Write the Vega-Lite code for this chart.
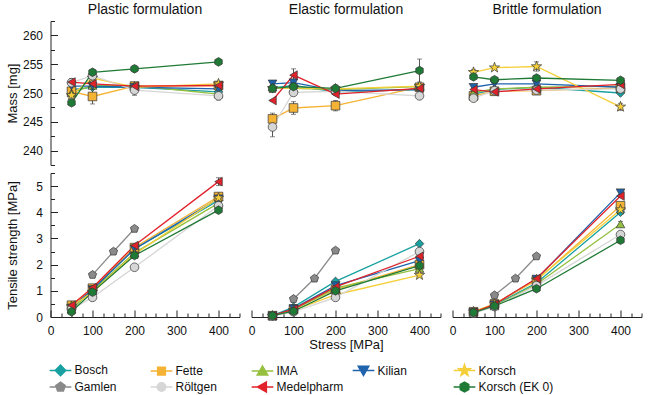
{
"$schema":"https://vega.github.io/schema/vega-lite/v6.json",
"padding":{"left":5.5,"top":2,"right":5,"bottom":2},
"config":{"view":{"stroke":null},"font":"Liberation Sans",
"axis":{"grid":false,"domainColor":"#222","tickColor":"#222","labelFont":"Liberation Sans","labelFontSize":12,"labelColor":"#111","titleFont":"Liberation Sans","titleFontSize":13,"titleFontWeight":"normal","titleColor":"#111","labelFlush":false,"labelOverlap":false},
"title":{"font":"Liberation Sans","fontSize":14,"fontWeight":"normal","color":"#111","offset":4},
"legend":{"orient":"bottom","direction":"horizontal","columns":5,"gridAlign":"all","columnPadding":-2,"rowPadding":-2,"symbolSize":144,"symbolOffset":2,"labelOffset":6,"symbolStrokeWidth":1.5,"labelFont":"Liberation Sans","labelFontSize":12,"labelColor":"#111","padding":0,"offset":10}},
"data":{"values":[
{"form":"Plastic","measure":"mass","press":"Bosch","stress":50,"value":250.6},
{"form":"Plastic","measure":"mass","press":"Bosch","stress":100,"value":251.0},
{"form":"Plastic","measure":"mass","press":"Bosch","stress":200,"value":251.0},
{"form":"Plastic","measure":"mass","press":"Bosch","stress":400,"value":250.2},
{"form":"Plastic","measure":"mass","press":"Fette","stress":50,"value":250.3},
{"form":"Plastic","measure":"mass","press":"Fette","stress":100,"value":249.4,"err":1.3},
{"form":"Plastic","measure":"mass","press":"Fette","stress":200,"value":251.2},
{"form":"Plastic","measure":"mass","press":"Fette","stress":400,"value":251.3},
{"form":"Plastic","measure":"mass","press":"IMA","stress":50,"value":250.0},
{"form":"Plastic","measure":"mass","press":"IMA","stress":100,"value":251.3},
{"form":"Plastic","measure":"mass","press":"IMA","stress":200,"value":251.3},
{"form":"Plastic","measure":"mass","press":"IMA","stress":400,"value":249.8},
{"form":"Plastic","measure":"mass","press":"Kilian","stress":50,"value":251.2},
{"form":"Plastic","measure":"mass","press":"Kilian","stress":100,"value":251.2},
{"form":"Plastic","measure":"mass","press":"Kilian","stress":200,"value":251.0},
{"form":"Plastic","measure":"mass","press":"Kilian","stress":400,"value":250.7},
{"form":"Plastic","measure":"mass","press":"Korsch","stress":50,"value":249.6},
{"form":"Plastic","measure":"mass","press":"Korsch","stress":100,"value":252.6},
{"form":"Plastic","measure":"mass","press":"Korsch","stress":200,"value":251.0},
{"form":"Plastic","measure":"mass","press":"Korsch","stress":400,"value":251.6},
{"form":"Plastic","measure":"mass","press":"Röltgen","stress":50,"value":251.8},
{"form":"Plastic","measure":"mass","press":"Röltgen","stress":100,"value":253.0},
{"form":"Plastic","measure":"mass","press":"Röltgen","stress":200,"value":250.5,"err":0.9},
{"form":"Plastic","measure":"mass","press":"Röltgen","stress":400,"value":249.5,"err":0.7},
{"form":"Plastic","measure":"mass","press":"Medelpharm","stress":50,"value":251.9,"err":0.6},
{"form":"Plastic","measure":"mass","press":"Medelpharm","stress":100,"value":251.6},
{"form":"Plastic","measure":"mass","press":"Medelpharm","stress":200,"value":251.2},
{"form":"Plastic","measure":"mass","press":"Medelpharm","stress":400,"value":251.3,"err":0.7},
{"form":"Plastic","measure":"mass","press":"Korsch (EK 0)","stress":50,"value":248.3,"err":0.5},
{"form":"Plastic","measure":"mass","press":"Korsch (EK 0)","stress":100,"value":253.6},
{"form":"Plastic","measure":"mass","press":"Korsch (EK 0)","stress":200,"value":254.2,"err":0.5},
{"form":"Plastic","measure":"mass","press":"Korsch (EK 0)","stress":400,"value":255.4},
{"form":"Elastic","measure":"mass","press":"Bosch","stress":50,"value":250.9},
{"form":"Elastic","measure":"mass","press":"Bosch","stress":100,"value":251.3},
{"form":"Elastic","measure":"mass","press":"Bosch","stress":200,"value":250.2},
{"form":"Elastic","measure":"mass","press":"Bosch","stress":400,"value":250.6},
{"form":"Elastic","measure":"mass","press":"Fette","stress":50,"value":245.5,"err":1.0},
{"form":"Elastic","measure":"mass","press":"Fette","stress":100,"value":247.4,"err":1.1},
{"form":"Elastic","measure":"mass","press":"Fette","stress":200,"value":247.8,"err":0.9},
{"form":"Elastic","measure":"mass","press":"Fette","stress":400,"value":251.0},
{"form":"Elastic","measure":"mass","press":"IMA","stress":50,"value":251.0},
{"form":"Elastic","measure":"mass","press":"IMA","stress":100,"value":250.8},
{"form":"Elastic","measure":"mass","press":"IMA","stress":200,"value":250.6},
{"form":"Elastic","measure":"mass","press":"IMA","stress":400,"value":251.1},
{"form":"Elastic","measure":"mass","press":"Kilian","stress":50,"value":251.6},
{"form":"Elastic","measure":"mass","press":"Kilian","stress":100,"value":251.8},
{"form":"Elastic","measure":"mass","press":"Kilian","stress":200,"value":250.4},
{"form":"Elastic","measure":"mass","press":"Kilian","stress":400,"value":250.6},
{"form":"Elastic","measure":"mass","press":"Korsch","stress":50,"value":250.8},
{"form":"Elastic","measure":"mass","press":"Korsch","stress":100,"value":250.9},
{"form":"Elastic","measure":"mass","press":"Korsch","stress":200,"value":250.7},
{"form":"Elastic","measure":"mass","press":"Korsch","stress":400,"value":251.2},
{"form":"Elastic","measure":"mass","press":"Röltgen","stress":50,"value":244.1,"err":1.7},
{"form":"Elastic","measure":"mass","press":"Röltgen","stress":100,"value":250.1},
{"form":"Elastic","measure":"mass","press":"Röltgen","stress":200,"value":250.3},
{"form":"Elastic","measure":"mass","press":"Röltgen","stress":400,"value":249.5},
{"form":"Elastic","measure":"mass","press":"Medelpharm","stress":50,"value":248.7},
{"form":"Elastic","measure":"mass","press":"Medelpharm","stress":100,"value":253.1,"err":1.1},
{"form":"Elastic","measure":"mass","press":"Medelpharm","stress":200,"value":249.8},
{"form":"Elastic","measure":"mass","press":"Medelpharm","stress":400,"value":250.8},
{"form":"Elastic","measure":"mass","press":"Korsch (EK 0)","stress":50,"value":250.8,"err":0.7},
{"form":"Elastic","measure":"mass","press":"Korsch (EK 0)","stress":100,"value":251.1,"err":0.6},
{"form":"Elastic","measure":"mass","press":"Korsch (EK 0)","stress":200,"value":250.8,"err":0.6},
{"form":"Elastic","measure":"mass","press":"Korsch (EK 0)","stress":400,"value":253.9,"err":2.0},
{"form":"Brittle","measure":"mass","press":"Bosch","stress":50,"value":249.8},
{"form":"Brittle","measure":"mass","press":"Bosch","stress":100,"value":250.6},
{"form":"Brittle","measure":"mass","press":"Bosch","stress":200,"value":251.0},
{"form":"Brittle","measure":"mass","press":"Bosch","stress":400,"value":250.0},
{"form":"Brittle","measure":"mass","press":"Fette","stress":50,"value":249.5},
{"form":"Brittle","measure":"mass","press":"Fette","stress":100,"value":250.3},
{"form":"Brittle","measure":"mass","press":"Fette","stress":200,"value":250.4},
{"form":"Brittle","measure":"mass","press":"Fette","stress":400,"value":250.9},
{"form":"Brittle","measure":"mass","press":"IMA","stress":50,"value":250.1},
{"form":"Brittle","measure":"mass","press":"IMA","stress":100,"value":250.7},
{"form":"Brittle","measure":"mass","press":"IMA","stress":200,"value":251.0},
{"form":"Brittle","measure":"mass","press":"IMA","stress":400,"value":251.2},
{"form":"Brittle","measure":"mass","press":"Kilian","stress":50,"value":251.0},
{"form":"Brittle","measure":"mass","press":"Kilian","stress":100,"value":251.6},
{"form":"Brittle","measure":"mass","press":"Kilian","stress":200,"value":251.6},
{"form":"Brittle","measure":"mass","press":"Kilian","stress":400,"value":251.0},
{"form":"Brittle","measure":"mass","press":"Korsch","stress":50,"value":253.6,"err":0.5},
{"form":"Brittle","measure":"mass","press":"Korsch","stress":100,"value":254.4},
{"form":"Brittle","measure":"mass","press":"Korsch","stress":200,"value":254.6,"err":0.8},
{"form":"Brittle","measure":"mass","press":"Korsch","stress":400,"value":247.6,"err":0.6},
{"form":"Brittle","measure":"mass","press":"Röltgen","stress":50,"value":249.1,"err":0.5},
{"form":"Brittle","measure":"mass","press":"Röltgen","stress":100,"value":250.4},
{"form":"Brittle","measure":"mass","press":"Röltgen","stress":200,"value":250.5},
{"form":"Brittle","measure":"mass","press":"Röltgen","stress":400,"value":250.7},
{"form":"Brittle","measure":"mass","press":"Medelpharm","stress":50,"value":250.6},
{"form":"Brittle","measure":"mass","press":"Medelpharm","stress":100,"value":250.2},
{"form":"Brittle","measure":"mass","press":"Medelpharm","stress":200,"value":250.7},
{"form":"Brittle","measure":"mass","press":"Medelpharm","stress":400,"value":251.5},
{"form":"Brittle","measure":"mass","press":"Korsch (EK 0)","stress":50,"value":252.8},
{"form":"Brittle","measure":"mass","press":"Korsch (EK 0)","stress":100,"value":252.3},
{"form":"Brittle","measure":"mass","press":"Korsch (EK 0)","stress":200,"value":252.6},
{"form":"Brittle","measure":"mass","press":"Korsch (EK 0)","stress":400,"value":252.2},
{"form":"Plastic","measure":"ts","press":"Bosch","stress":50,"value":0.35},
{"form":"Plastic","measure":"ts","press":"Bosch","stress":100,"value":1.05},
{"form":"Plastic","measure":"ts","press":"Bosch","stress":200,"value":2.6},
{"form":"Plastic","measure":"ts","press":"Bosch","stress":400,"value":4.45},
{"form":"Plastic","measure":"ts","press":"Fette","stress":50,"value":0.45},
{"form":"Plastic","measure":"ts","press":"Fette","stress":100,"value":1.1},
{"form":"Plastic","measure":"ts","press":"Fette","stress":200,"value":2.65},
{"form":"Plastic","measure":"ts","press":"Fette","stress":400,"value":4.6},
{"form":"Plastic","measure":"ts","press":"IMA","stress":50,"value":0.3},
{"form":"Plastic","measure":"ts","press":"IMA","stress":100,"value":1.0},
{"form":"Plastic","measure":"ts","press":"IMA","stress":200,"value":2.45},
{"form":"Plastic","measure":"ts","press":"IMA","stress":400,"value":4.35},
{"form":"Plastic","measure":"ts","press":"Kilian","stress":50,"value":0.35},
{"form":"Plastic","measure":"ts","press":"Kilian","stress":100,"value":1.05},
{"form":"Plastic","measure":"ts","press":"Kilian","stress":200,"value":2.6},
{"form":"Plastic","measure":"ts","press":"Kilian","stress":400,"value":4.52},
{"form":"Plastic","measure":"ts","press":"Korsch","stress":50,"value":0.4},
{"form":"Plastic","measure":"ts","press":"Korsch","stress":100,"value":0.95},
{"form":"Plastic","measure":"ts","press":"Korsch","stress":200,"value":2.4},
{"form":"Plastic","measure":"ts","press":"Korsch","stress":400,"value":4.55},
{"form":"Plastic","measure":"ts","press":"Gamlen","stress":100,"value":1.61},
{"form":"Plastic","measure":"ts","press":"Gamlen","stress":150,"value":2.5},
{"form":"Plastic","measure":"ts","press":"Gamlen","stress":200,"value":3.37},
{"form":"Plastic","measure":"ts","press":"Röltgen","stress":50,"value":0.3},
{"form":"Plastic","measure":"ts","press":"Röltgen","stress":100,"value":0.75,"err":0.08},
{"form":"Plastic","measure":"ts","press":"Röltgen","stress":200,"value":1.9,"err":0.08},
{"form":"Plastic","measure":"ts","press":"Röltgen","stress":400,"value":4.25},
{"form":"Plastic","measure":"ts","press":"Medelpharm","stress":50,"value":0.45},
{"form":"Plastic","measure":"ts","press":"Medelpharm","stress":100,"value":1.12},
{"form":"Plastic","measure":"ts","press":"Medelpharm","stress":200,"value":2.73},
{"form":"Plastic","measure":"ts","press":"Medelpharm","stress":400,"value":5.17,"err":0.15},
{"form":"Plastic","measure":"ts","press":"Korsch (EK 0)","stress":50,"value":0.2},
{"form":"Plastic","measure":"ts","press":"Korsch (EK 0)","stress":100,"value":0.95},
{"form":"Plastic","measure":"ts","press":"Korsch (EK 0)","stress":200,"value":2.35},
{"form":"Plastic","measure":"ts","press":"Korsch (EK 0)","stress":400,"value":4.08},
{"form":"Elastic","measure":"ts","press":"Bosch","stress":50,"value":0.05},
{"form":"Elastic","measure":"ts","press":"Bosch","stress":100,"value":0.38},
{"form":"Elastic","measure":"ts","press":"Bosch","stress":200,"value":1.36},
{"form":"Elastic","measure":"ts","press":"Bosch","stress":400,"value":2.8},
{"form":"Elastic","measure":"ts","press":"Fette","stress":50,"value":0.05},
{"form":"Elastic","measure":"ts","press":"Fette","stress":100,"value":0.3},
{"form":"Elastic","measure":"ts","press":"Fette","stress":200,"value":1.05},
{"form":"Elastic","measure":"ts","press":"Fette","stress":400,"value":2.0},
{"form":"Elastic","measure":"ts","press":"IMA","stress":50,"value":0.04},
{"form":"Elastic","measure":"ts","press":"IMA","stress":100,"value":0.28},
{"form":"Elastic","measure":"ts","press":"IMA","stress":200,"value":1.1},
{"form":"Elastic","measure":"ts","press":"IMA","stress":400,"value":1.85},
{"form":"Elastic","measure":"ts","press":"Kilian","stress":50,"value":0.05},
{"form":"Elastic","measure":"ts","press":"Kilian","stress":100,"value":0.32},
{"form":"Elastic","measure":"ts","press":"Kilian","stress":200,"value":1.2},
{"form":"Elastic","measure":"ts","press":"Kilian","stress":400,"value":2.15},
{"form":"Elastic","measure":"ts","press":"Korsch","stress":50,"value":0.04},
{"form":"Elastic","measure":"ts","press":"Korsch","stress":100,"value":0.25},
{"form":"Elastic","measure":"ts","press":"Korsch","stress":200,"value":0.85},
{"form":"Elastic","measure":"ts","press":"Korsch","stress":400,"value":1.6},
{"form":"Elastic","measure":"ts","press":"Gamlen","stress":100,"value":0.69},
{"form":"Elastic","measure":"ts","press":"Gamlen","stress":150,"value":1.47},
{"form":"Elastic","measure":"ts","press":"Gamlen","stress":200,"value":2.54},
{"form":"Elastic","measure":"ts","press":"Röltgen","stress":50,"value":0.04},
{"form":"Elastic","measure":"ts","press":"Röltgen","stress":100,"value":0.2},
{"form":"Elastic","measure":"ts","press":"Röltgen","stress":200,"value":0.75,"err":0.08},
{"form":"Elastic","measure":"ts","press":"Röltgen","stress":400,"value":2.5},
{"form":"Elastic","measure":"ts","press":"Medelpharm","stress":50,"value":0.05},
{"form":"Elastic","measure":"ts","press":"Medelpharm","stress":100,"value":0.3},
{"form":"Elastic","measure":"ts","press":"Medelpharm","stress":200,"value":1.15},
{"form":"Elastic","measure":"ts","press":"Medelpharm","stress":400,"value":2.32},
{"form":"Elastic","measure":"ts","press":"Korsch (EK 0)","stress":50,"value":0.05},
{"form":"Elastic","measure":"ts","press":"Korsch (EK 0)","stress":100,"value":0.22,"err":0.08},
{"form":"Elastic","measure":"ts","press":"Korsch (EK 0)","stress":200,"value":1.0,"err":0.08},
{"form":"Elastic","measure":"ts","press":"Korsch (EK 0)","stress":400,"value":1.96,"err":0.1},
{"form":"Brittle","measure":"ts","press":"Bosch","stress":50,"value":0.17},
{"form":"Brittle","measure":"ts","press":"Bosch","stress":100,"value":0.45},
{"form":"Brittle","measure":"ts","press":"Bosch","stress":200,"value":1.3},
{"form":"Brittle","measure":"ts","press":"Bosch","stress":400,"value":4.0},
{"form":"Brittle","measure":"ts","press":"Fette","stress":50,"value":0.2},
{"form":"Brittle","measure":"ts","press":"Fette","stress":100,"value":0.5},
{"form":"Brittle","measure":"ts","press":"Fette","stress":200,"value":1.4},
{"form":"Brittle","measure":"ts","press":"Fette","stress":400,"value":4.25,"err":0.1},
{"form":"Brittle","measure":"ts","press":"IMA","stress":50,"value":0.17},
{"form":"Brittle","measure":"ts","press":"IMA","stress":100,"value":0.42},
{"form":"Brittle","measure":"ts","press":"IMA","stress":200,"value":1.25},
{"form":"Brittle","measure":"ts","press":"IMA","stress":400,"value":3.55,"err":0.1},
{"form":"Brittle","measure":"ts","press":"Kilian","stress":50,"value":0.18},
{"form":"Brittle","measure":"ts","press":"Kilian","stress":100,"value":0.48},
{"form":"Brittle","measure":"ts","press":"Kilian","stress":200,"value":1.45},
{"form":"Brittle","measure":"ts","press":"Kilian","stress":400,"value":4.75,"err":0.12},
{"form":"Brittle","measure":"ts","press":"Korsch","stress":50,"value":0.2},
{"form":"Brittle","measure":"ts","press":"Korsch","stress":100,"value":0.5},
{"form":"Brittle","measure":"ts","press":"Korsch","stress":200,"value":1.42},
{"form":"Brittle","measure":"ts","press":"Korsch","stress":400,"value":4.1,"err":0.1},
{"form":"Brittle","measure":"ts","press":"Gamlen","stress":100,"value":0.83},
{"form":"Brittle","measure":"ts","press":"Gamlen","stress":150,"value":1.47},
{"form":"Brittle","measure":"ts","press":"Gamlen","stress":200,"value":2.32},
{"form":"Brittle","measure":"ts","press":"Röltgen","stress":50,"value":0.15},
{"form":"Brittle","measure":"ts","press":"Röltgen","stress":100,"value":0.4},
{"form":"Brittle","measure":"ts","press":"Röltgen","stress":200,"value":1.2},
{"form":"Brittle","measure":"ts","press":"Röltgen","stress":400,"value":3.15,"err":0.1},
{"form":"Brittle","measure":"ts","press":"Medelpharm","stress":50,"value":0.18},
{"form":"Brittle","measure":"ts","press":"Medelpharm","stress":100,"value":0.48},
{"form":"Brittle","measure":"ts","press":"Medelpharm","stress":200,"value":1.47},
{"form":"Brittle","measure":"ts","press":"Medelpharm","stress":400,"value":4.62},
{"form":"Brittle","measure":"ts","press":"Korsch (EK 0)","stress":50,"value":0.17},
{"form":"Brittle","measure":"ts","press":"Korsch (EK 0)","stress":100,"value":0.42},
{"form":"Brittle","measure":"ts","press":"Korsch (EK 0)","stress":200,"value":1.08},
{"form":"Brittle","measure":"ts","press":"Korsch (EK 0)","stress":400,"value":2.93}
]},
"columns":3,
"spacing":{"row":6,"column":7},
"concat":[
{"title":"Plastic formulation","width":189,"height":144,
"transform":[{"filter":"datum.form==='Plastic' && datum.measure==='mass'"}],
"encoding":{
"x":{"field":"stress","type":"quantitative","scale":{"domain":[0,450],"nice":false},"axis":null},
"y":{"field":"value","type":"quantitative","scale":{"domain":[237.5,262.5],"nice":false,"zero":false},"axis":{"title":"Mass [mg]","values":[237.5,240,242.5,245,247.5,250,252.5,255,257.5,260,262.5],"labelExpr":"datum.value % 5 === 0 ? '' + datum.value : ''","labelFontSize":{"condition":{"test":"datum.value % 5 === 0","value":12},"value":0},"tickSize":{"condition":{"test":"datum.value % 5 === 0","value":-7},"value":-4},"labelPadding":15,"minExtent":28,"maxExtent":28,"titlePadding":3}},
"color":{"field":"press","type":"nominal","title":null,"scale":{"domain":["Bosch","Fette","IMA","Kilian","Korsch","Gamlen","Röltgen","Medelpharm"," ","Korsch (EK 0)"],"range":["#19a0a0","#f5b335","#95c03f","#1f63ad","#f5cf3a","#8a8a8a","#d6d6d6","#e2222b","rgba(0,0,0,0)","#1f7a36"]},
"legend":{"encode":{"symbols":{"update":{
"shape":{"signal":"['M-1.55,0H-0.75M0.75,0H1.55M0,-0.75L0.75,0L0,0.75L-0.75,0Z','M-1.55,0H-0.55M0.55,0H1.55M-0.55,-0.55H0.55V0.55H-0.55Z','M-1.55,0H-0.4M0.4,0H1.55M0,-0.7L0.75,0.6H-0.75Z','M-1.55,0H-0.4M0.4,0H1.55M0,0.7L0.75,-0.6H-0.75Z','M-1.55,0H-0.55M0.55,0H1.55M0,-0.85L0.2,-0.275L0.808,-0.263L0.323,0.105L0.5,0.688L0,0.34L-0.5,0.688L-0.323,0.105L-0.808,-0.263L-0.2,-0.275Z','M-1.55,0H-0.65M0.65,0H1.55M0,-0.7L0.666,-0.216L0.412,0.566L-0.412,0.566L-0.666,-0.216Z','M-1.55,0H-0.6M0.6,0H1.55M-0.6,0A0.6,0.6,0,1,0,0.6,0A0.6,0.6,0,1,0,-0.6,0Z','M-1.55,0H-0.7M0.55,0H1.55M-0.7,0L0.55,-0.7V0.7Z','M0,0','M-1.55,0H-0.606M0.606,0H1.55M0,-0.7L0.606,-0.35L0.606,0.35L0,0.7L-0.606,0.35L-0.606,-0.35Z'][indexof(['Bosch','Fette','IMA','Kilian','Korsch','Gamlen','Röltgen','Medelpharm',' ','Korsch (EK 0)'], datum.value)]"},
"fill":{"signal":"scale('color', datum.value)"},
"stroke":{"signal":"scale('color', datum.value)"},
"strokeWidth":{"value":1.5},
"opacity":{"value":1},
"size":{"value":196}}}}}}
},
"layer":[
{"mark":{"type":"line","strokeWidth":1.3}},
{"transform":[{"filter":"datum.err > 0"}],"mark":{"type":"errorbar","ticks":true},"encoding":{"yError":{"field":"err"},"color":{"value":"#555"}}},
{"mark":{"type":"point","filled":true,"opacity":1,"size":75,"stroke":"#333","strokeWidth":0.7},"encoding":{"shape":{"field":"press","type":"nominal","scale":{"domain":["Bosch","Fette","IMA","Kilian","Korsch","Gamlen","Röltgen","Medelpharm","Korsch (EK 0)"],"range":["diamond","square","triangle-up","triangle-down","M0,-1.25L0.294,-0.405L1.189,-0.386L0.475,0.155L0.735,1.011L0,0.5L-0.735,1.011L-0.475,0.155L-1.189,-0.386L-0.294,-0.405Z","M0,-1L0.951,-0.309L0.588,0.809L-0.588,0.809L-0.951,-0.309Z","circle","triangle-left","M0,-1L0.866,-0.5L0.866,0.5L0,1L-0.866,0.5L-0.866,-0.5Z"]},"legend":null}}}
]},
{"title":"Elastic formulation","width":189,"height":144,
"transform":[{"filter":"datum.form==='Elastic' && datum.measure==='mass'"}],
"encoding":{
"x":{"field":"stress","type":"quantitative","scale":{"domain":[0,450],"nice":false},"axis":null},
"y":{"field":"value","type":"quantitative","scale":{"domain":[237.5,262.5],"nice":false,"zero":false},"axis":null},
"color":{"field":"press","type":"nominal","scale":{"domain":["Bosch","Fette","IMA","Kilian","Korsch","Gamlen","Röltgen","Medelpharm"," ","Korsch (EK 0)"],"range":["#19a0a0","#f5b335","#95c03f","#1f63ad","#f5cf3a","#8a8a8a","#d6d6d6","#e2222b","rgba(0,0,0,0)","#1f7a36"]},"legend":null}
},
"layer":[
{"mark":{"type":"line","strokeWidth":1.3}},
{"transform":[{"filter":"datum.err > 0"}],"mark":{"type":"errorbar","ticks":true},"encoding":{"yError":{"field":"err"},"color":{"value":"#555"}}},
{"mark":{"type":"point","filled":true,"opacity":1,"size":75,"stroke":"#333","strokeWidth":0.7},"encoding":{"shape":{"field":"press","type":"nominal","scale":{"domain":["Bosch","Fette","IMA","Kilian","Korsch","Gamlen","Röltgen","Medelpharm","Korsch (EK 0)"],"range":["diamond","square","triangle-up","triangle-down","M0,-1.25L0.294,-0.405L1.189,-0.386L0.475,0.155L0.735,1.011L0,0.5L-0.735,1.011L-0.475,0.155L-1.189,-0.386L-0.294,-0.405Z","M0,-1L0.951,-0.309L0.588,0.809L-0.588,0.809L-0.951,-0.309Z","circle","triangle-left","M0,-1L0.866,-0.5L0.866,0.5L0,1L-0.866,0.5L-0.866,-0.5Z"]},"legend":null}}}
]},
{"title":"Brittle formulation","width":189,"height":144,
"transform":[{"filter":"datum.form==='Brittle' && datum.measure==='mass'"}],
"encoding":{
"x":{"field":"stress","type":"quantitative","scale":{"domain":[0,450],"nice":false},"axis":null},
"y":{"field":"value","type":"quantitative","scale":{"domain":[237.5,262.5],"nice":false,"zero":false},"axis":null},
"color":{"field":"press","type":"nominal","scale":{"domain":["Bosch","Fette","IMA","Kilian","Korsch","Gamlen","Röltgen","Medelpharm"," ","Korsch (EK 0)"],"range":["#19a0a0","#f5b335","#95c03f","#1f63ad","#f5cf3a","#8a8a8a","#d6d6d6","#e2222b","rgba(0,0,0,0)","#1f7a36"]},"legend":null}
},
"layer":[
{"mark":{"type":"line","strokeWidth":1.3}},
{"transform":[{"filter":"datum.err > 0"}],"mark":{"type":"errorbar","ticks":true},"encoding":{"yError":{"field":"err"},"color":{"value":"#555"}}},
{"mark":{"type":"point","filled":true,"opacity":1,"size":75,"stroke":"#333","strokeWidth":0.7},"encoding":{"shape":{"field":"press","type":"nominal","scale":{"domain":["Bosch","Fette","IMA","Kilian","Korsch","Gamlen","Röltgen","Medelpharm","Korsch (EK 0)"],"range":["diamond","square","triangle-up","triangle-down","M0,-1.25L0.294,-0.405L1.189,-0.386L0.475,0.155L0.735,1.011L0,0.5L-0.735,1.011L-0.475,0.155L-1.189,-0.386L-0.294,-0.405Z","M0,-1L0.951,-0.309L0.588,0.809L-0.588,0.809L-0.951,-0.309Z","circle","triangle-left","M0,-1L0.866,-0.5L0.866,0.5L0,1L-0.866,0.5L-0.866,-0.5Z"]},"legend":null}}}
]},
{"width":189,"height":144,
"transform":[{"filter":"datum.form==='Plastic' && datum.measure==='ts'"}],
"encoding":{
"x":{"field":"stress","type":"quantitative","scale":{"domain":[0,450],"nice":false},"axis":{"title":null,"values":[0,25,50,75,100,125,150,175,200,225,250,275,300,325,350,375,400,425,450],"labelExpr":"datum.value % 100 === 0 ? '' + datum.value : ''","tickSize":{"condition":{"test":"datum.value % 100 === 0","value":-7},"value":-4},"labelPadding":15.5}},
"y":{"field":"value","type":"quantitative","scale":{"domain":[0,5.5],"nice":false},"axis":{"title":"Tensile strength [MPa]","values":[0,0.5,1,1.5,2,2.5,3,3.5,4,4.5,5,5.5],"labelExpr":"datum.value % 1 === 0 ? '' + datum.value : ''","labelFontSize":{"condition":{"test":"datum.value % 1 === 0","value":12},"value":0},"tickSize":{"condition":{"test":"datum.value % 1 === 0","value":-7},"value":-4},"labelPadding":15,"minExtent":28,"maxExtent":28,"titlePadding":3}},
"color":{"field":"press","type":"nominal","scale":{"domain":["Bosch","Fette","IMA","Kilian","Korsch","Gamlen","Röltgen","Medelpharm"," ","Korsch (EK 0)"],"range":["#19a0a0","#f5b335","#95c03f","#1f63ad","#f5cf3a","#8a8a8a","#d6d6d6","#e2222b","rgba(0,0,0,0)","#1f7a36"]},"legend":null}
},
"layer":[
{"mark":{"type":"line","strokeWidth":1.3}},
{"transform":[{"filter":"datum.err > 0"}],"mark":{"type":"errorbar","ticks":true},"encoding":{"yError":{"field":"err"},"color":{"value":"#555"}}},
{"mark":{"type":"point","filled":true,"opacity":1,"size":75,"stroke":"#333","strokeWidth":0.7},"encoding":{"shape":{"field":"press","type":"nominal","scale":{"domain":["Bosch","Fette","IMA","Kilian","Korsch","Gamlen","Röltgen","Medelpharm","Korsch (EK 0)"],"range":["diamond","square","triangle-up","triangle-down","M0,-1.25L0.294,-0.405L1.189,-0.386L0.475,0.155L0.735,1.011L0,0.5L-0.735,1.011L-0.475,0.155L-1.189,-0.386L-0.294,-0.405Z","M0,-1L0.951,-0.309L0.588,0.809L-0.588,0.809L-0.951,-0.309Z","circle","triangle-left","M0,-1L0.866,-0.5L0.866,0.5L0,1L-0.866,0.5L-0.866,-0.5Z"]},"legend":null}}}
]},
{"width":189,"height":144,
"transform":[{"filter":"datum.form==='Elastic' && datum.measure==='ts'"}],
"encoding":{
"x":{"field":"stress","type":"quantitative","scale":{"domain":[0,450],"nice":false},"axis":{"title":"Stress [MPa]","titlePadding":-1,"values":[0,25,50,75,100,125,150,175,200,225,250,275,300,325,350,375,400,425,450],"labelExpr":"datum.value % 100 === 0 ? '' + datum.value : ''","tickSize":{"condition":{"test":"datum.value % 100 === 0","value":-7},"value":-4},"labelPadding":15.5}},
"y":{"field":"value","type":"quantitative","scale":{"domain":[0,5.5],"nice":false},"axis":null},
"color":{"field":"press","type":"nominal","scale":{"domain":["Bosch","Fette","IMA","Kilian","Korsch","Gamlen","Röltgen","Medelpharm"," ","Korsch (EK 0)"],"range":["#19a0a0","#f5b335","#95c03f","#1f63ad","#f5cf3a","#8a8a8a","#d6d6d6","#e2222b","rgba(0,0,0,0)","#1f7a36"]},"legend":null}
},
"layer":[
{"mark":{"type":"line","strokeWidth":1.3}},
{"transform":[{"filter":"datum.err > 0"}],"mark":{"type":"errorbar","ticks":true},"encoding":{"yError":{"field":"err"},"color":{"value":"#555"}}},
{"mark":{"type":"point","filled":true,"opacity":1,"size":75,"stroke":"#333","strokeWidth":0.7},"encoding":{"shape":{"field":"press","type":"nominal","scale":{"domain":["Bosch","Fette","IMA","Kilian","Korsch","Gamlen","Röltgen","Medelpharm","Korsch (EK 0)"],"range":["diamond","square","triangle-up","triangle-down","M0,-1.25L0.294,-0.405L1.189,-0.386L0.475,0.155L0.735,1.011L0,0.5L-0.735,1.011L-0.475,0.155L-1.189,-0.386L-0.294,-0.405Z","M0,-1L0.951,-0.309L0.588,0.809L-0.588,0.809L-0.951,-0.309Z","circle","triangle-left","M0,-1L0.866,-0.5L0.866,0.5L0,1L-0.866,0.5L-0.866,-0.5Z"]},"legend":null}}}
]},
{"width":189,"height":144,
"transform":[{"filter":"datum.form==='Brittle' && datum.measure==='ts'"}],
"encoding":{
"x":{"field":"stress","type":"quantitative","scale":{"domain":[0,450],"nice":false},"axis":{"title":null,"values":[0,25,50,75,100,125,150,175,200,225,250,275,300,325,350,375,400,425,450],"labelExpr":"datum.value % 100 === 0 ? '' + datum.value : ''","tickSize":{"condition":{"test":"datum.value % 100 === 0","value":-7},"value":-4},"labelPadding":15.5}},
"y":{"field":"value","type":"quantitative","scale":{"domain":[0,5.5],"nice":false},"axis":null},
"color":{"field":"press","type":"nominal","scale":{"domain":["Bosch","Fette","IMA","Kilian","Korsch","Gamlen","Röltgen","Medelpharm"," ","Korsch (EK 0)"],"range":["#19a0a0","#f5b335","#95c03f","#1f63ad","#f5cf3a","#8a8a8a","#d6d6d6","#e2222b","rgba(0,0,0,0)","#1f7a36"]},"legend":null}
},
"layer":[
{"mark":{"type":"line","strokeWidth":1.3}},
{"transform":[{"filter":"datum.err > 0"}],"mark":{"type":"errorbar","ticks":true},"encoding":{"yError":{"field":"err"},"color":{"value":"#555"}}},
{"mark":{"type":"point","filled":true,"opacity":1,"size":75,"stroke":"#333","strokeWidth":0.7},"encoding":{"shape":{"field":"press","type":"nominal","scale":{"domain":["Bosch","Fette","IMA","Kilian","Korsch","Gamlen","Röltgen","Medelpharm","Korsch (EK 0)"],"range":["diamond","square","triangle-up","triangle-down","M0,-1.25L0.294,-0.405L1.189,-0.386L0.475,0.155L0.735,1.011L0,0.5L-0.735,1.011L-0.475,0.155L-1.189,-0.386L-0.294,-0.405Z","M0,-1L0.951,-0.309L0.588,0.809L-0.588,0.809L-0.951,-0.309Z","circle","triangle-left","M0,-1L0.866,-0.5L0.866,0.5L0,1L-0.866,0.5L-0.866,-0.5Z"]},"legend":null}}}
]}
]
}
